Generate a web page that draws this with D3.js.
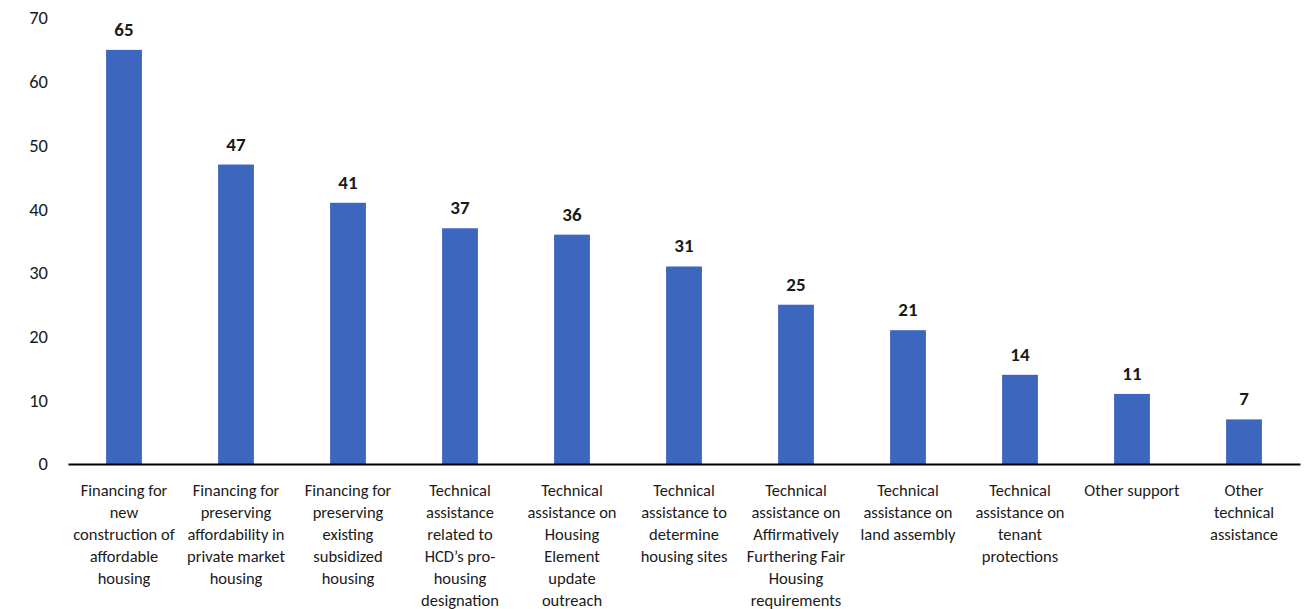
<!DOCTYPE html>
<html>
<head>
<meta charset="utf-8">
<script src="https://cdn.jsdelivr.net/npm/d3@7"></script>
<style>
  body { margin: 0; background: #fff; }
  text { font-family: Carlito, Lato, "Open Sans", sans-serif; fill: #1a1a1a; }
</style>
</head>
<body>
<svg width="1306" height="609"></svg>
<script>
// categories, one array of lines per bar
var categories = [
  ["Financing for", "new", "construction of", "affordable", "housing"],
  ["Financing for", "preserving", "affordability in", "private market", "housing"],
  ["Financing for", "preserving", "existing", "subsidized", "housing"],
  ["Technical", "assistance", "related to", "HCD\u2019s pro-", "housing", "designation"],
  ["Technical", "assistance on", "Housing", "Element", "update", "outreach"],
  ["Technical", "assistance to", "determine", "housing sites"],
  ["Technical", "assistance on", "Affirmatively", "Furthering Fair", "Housing", "requirements"],
  ["Technical", "assistance on", "land assembly"],
  ["Technical", "assistance on", "tenant", "protections"],
  ["Other support"],
  ["Other", "technical", "assistance"]
]
var values = [65, 47, 41, 37, 36, 31, 25, 21, 14, 11, 7]
var yTicks = [0, 10, 20, 30, 40, 50, 60, 70]

var svg = d3.select("svg")
var mLeft = 68, mRight = 1300, mTop = 18, mBottom = 464

var xScale = d3.scaleBand()
    .domain(d3.range(values.length))
    .range([mLeft, mRight])
    .paddingInner(0.68)
    .paddingOuter(0.34)
var yScale = d3.scaleLinear().domain([0, 70]).range([mBottom, mTop])

// y axis labels only, no line
var yAxis = d3.axisLeft(yScale).tickValues(yTicks).tickSize(0).tickPadding(20)
var yg = svg.append("g")
    .attr("transform", "translate(" + mLeft + ",0)")
    .call(yAxis)
yg.select(".domain").remove()
yg.selectAll("text")
    .style("font-size", "18.5px")
    .style("font-family", "Carlito, Lato, sans-serif")
    .attr("fill", "#1a1a1a")

svg.selectAll("rect.bar")
    .data(values)
    .enter()
    .append("rect")
    .attr("class", "bar")
    .attr("x", (d, i) => xScale(i))
    .attr("width", xScale.bandwidth())
    .attr("y", d => yScale(d))
    .attr("height", d => mBottom - yScale(d))
    .attr("fill", "#3d66bf")

svg.selectAll("text.val")
    .data(values)
    .enter()
    .append("text")
    .attr("class", "val")
    .attr("x", (d, i) => xScale(i) + xScale.bandwidth() / 2)
    .attr("y", d => yScale(d) - 14)
    .attr("text-anchor", "middle")
    .style("font-size", "19px")
    .style("font-weight", "bold")
    .text(d => d)

// x axis line
var xAxis = d3.axisBottom(xScale).tickSize(0).tickFormat("")
var xg = svg.append("g")
    .attr("transform", "translate(0," + mBottom + ")")
    .call(xAxis)
xg.select(".domain").attr("stroke", "#000").attr("stroke-width", 2)

svg.selectAll("text.cat")
    .data(categories)
    .enter()
    .append("text")
    .attr("class", "cat")
    .attr("text-anchor", "middle")
    .style("font-size", "16.5px")
    .each(function(d, i) {
        var cx = xScale(i) + xScale.bandwidth() / 2
        d3.select(this).selectAll("tspan")
            .data(d)
            .enter()
            .append("tspan")
            .attr("x", cx)
            .attr("y", (l, j) => 496 + j * 22)
            .text(l => l)
    })
</script>
</body>
</html>
